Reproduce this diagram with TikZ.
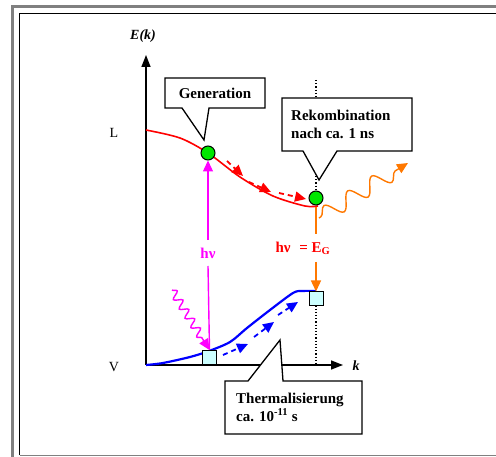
\documentclass[tikz,border=0pt]{standalone}
\usepackage{fontspec}
\setmainfont{Liberation Serif}
\usetikzlibrary{arrows.meta,decorations.pathmorphing}
\definecolor{orng}{RGB}{255,120,0}
\definecolor{mag}{RGB}{255,0,255}
\definecolor{grn}{RGB}{0,230,0}
\definecolor{cyanfill}{RGB}{204,255,255}
\definecolor{framegray}{RGB}{128,128,128}
\begin{document}
\begin{tikzpicture}[x=1pt,y=-1pt,
  lbl/.style={font=\fontsize{15}{18}\selectfont\bfseries, inner sep=0pt},
  axlbl/.style={font=\fontsize{14}{17}\selectfont, inner sep=0pt},
  callout/.style={draw=black, fill=white, line width=1.3pt, line join=miter},
  elec/.style={circle, draw=black, fill=grn, line width=1pt, minimum size=14pt, inner sep=0pt},
  hole/.style={rectangle, draw=black, fill=cyanfill, line width=1pt, minimum size=14pt, inner sep=0pt},
  dasharr/.style={line width=1.8pt, dash pattern=on 5pt off 4pt, -{Triangle[length=11pt,width=10pt]}},
  axisline/.style={line width=1.5pt, -{Triangle[length=12pt,width=9pt]}},
  arr/.style={line width=1.4pt, -{Triangle[length=11pt,width=10pt]}},
]
\useasboundingbox (0,0) rectangle (496,457);
% frame
\draw[framegray, line width=3pt] (12.5,457) -- (12.5,6.5) -- (496,6.5);
\draw[black, line width=1pt] (19.5,455) -- (19.5,13.3) -- (496,13.3);
\draw[framegray, line width=1pt] (19.5,455) -- (496,455);

% axes
\coordinate (O) at (146,365);
\coordinate (ytop) at (146,55);
\coordinate (xend) at (343,365);
\draw[axisline] (O) -- (ytop);
\draw[axisline] (O) -- (xend);
\node[axlbl, font=\fontsize{14}{17}\selectfont\bfseries\itshape] (Ek) at (143,36) {E(k)};
\node[axlbl, font=\fontsize{14}{17}\selectfont\bfseries\itshape] (kl) at (356,366) {k};
\node[axlbl] (L) at (114,133) {L};
\node[axlbl] (V) at (114,367) {V};

% bands
\draw[red, line width=1.6pt] plot[smooth] coordinates {(146,130) (180,138) (208,153) (240,177) (273,196) (305,206) (318,206)};
\draw[blue, line width=2.2pt] plot[smooth] coordinates {(146,365) (163,363) (190,357) (209,351) (230,342) (247,328) (270,310) (293,293) (302,291) (316,291)};

% dotted k line
\coordinate (dtop) at (316,80);
\coordinate (dbot) at (316,365);
\draw[dotted, line width=1.2pt] (dtop) -- (316,198);
\draw[dotted, line width=1.2pt] (316,299) -- (dbot);

% callouts
\coordinate (gtip) at (204,140);
\draw[callout] (165,78) -- (265,78) -- (265,108) -- (209,108) -- (gtip) -- (182,108) -- (165,108) -- cycle;
\node[lbl] (gen) at (215,93) {Generation};
\coordinate (rtip) at (319,180);
\draw[callout] (282,98) -- (412,98) -- (412,151) -- (337,151) -- (rtip) -- (303,151) -- (282,151) -- cycle;
\node[lbl, align=left, anchor=west] (rek) at (291,124) {Rekombination\\nach ca. 1 ns};
\coordinate (ttip) at (280,340);
\draw[callout] (225,381) -- (248,381) -- (ttip) -- (283,381) -- (362,381) -- (362,434) -- (225,434) -- cycle;
\node[lbl, align=left, anchor=west] (th) at (236,407) {Thermalisierung\\ca. 10\textsuperscript{-11} s};

% particles
\node[elec] (e1) at (208,153) {};
\node[elec] (e2) at (316,198) {};
\node[hole] (h1) at (209.5,357.5) {};
\node[hole] (h2) at (316,299) {};

% magenta excitation
\node[lbl, text=mag] (hnu1) at (208,253) {hν};
\draw[mag, arr] (208,240) -- (e1.south);
\draw[mag, line width=1.4pt] (208,266) -- (h1.north);
\draw[mag, line width=1.4pt, decorate, decoration={snake, amplitude=4pt, segment length=11pt, post length=12pt}, -{Triangle[length=11pt,width=10pt]}] (172,290) -- (h1.north);

% orange recombination
\node[lbl, text=red] (hnu2) at (303,248) {hν\,\, = E\textsubscript{G}};
\coordinate (og1) at (316,207);
\coordinate (og2) at (316,234);
\coordinate (og3) at (316,262);
\draw[orng, line width=1.4pt] (og1) -- (og2);
\draw[orng, arr] (og3) -- (h2.north);
\coordinate (wstart) at (319,218);
\coordinate (wend) at (408,163);
\draw[orng, line width=1.4pt, decorate, decoration={snake, amplitude=8pt, segment length=28pt, pre length=2pt, post length=12pt}, -{Triangle[length=11pt,width=10pt]}] (wstart) -- (wend);

% thermalisation arrows
\coordinate (ra1) at (227,161); \coordinate (rb1) at (243,176);
\coordinate (ra2) at (249,182); \coordinate (rb2) at (271,192);
\coordinate (ra3) at (279,193); \coordinate (rb3) at (306,199);
\draw[red, dasharr] (ra1) -- (rb1);
\draw[red, dasharr] (ra2) -- (rb2);
\draw[red, dasharr] (ra3) -- (rb3);
\coordinate (ba1) at (223,355); \coordinate (bb1) at (248,344);
\coordinate (ba2) at (254,337); \coordinate (bb2) at (274,322);
\coordinate (ba3) at (278,315); \coordinate (bb3) at (298,302);
\draw[blue, dasharr] (ba1) -- (bb1);
\draw[blue, dasharr] (ba2) -- (bb2);
\draw[blue, dasharr] (ba3) -- (bb3);
\end{tikzpicture}
\end{document}
